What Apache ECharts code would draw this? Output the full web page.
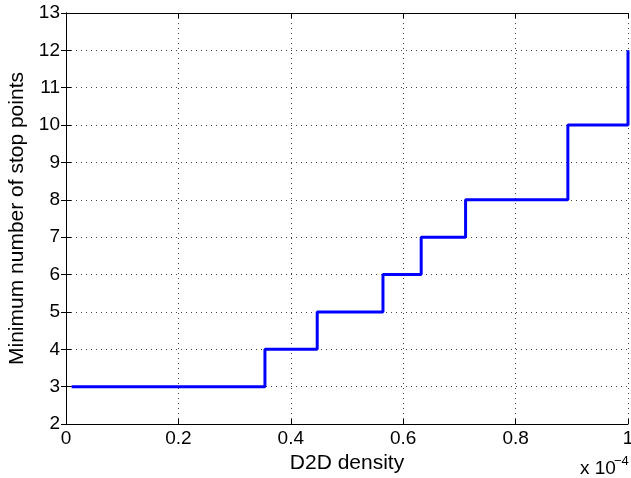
<!DOCTYPE html>
<html><head><meta charset="utf-8">
<script src="https://cdn.jsdelivr.net/npm/echarts@6/dist/echarts.min.js"></script>
<style>html,body{margin:0;padding:0;background:#fff}#c{width:631px;height:478px}</style>
</head><body><div id="c"></div>
<script>
const densityX = [0.01, 0.354, 0.447, 0.564, 0.632, 0.711, 0.893, 1.0];
const minStops = [3, 4, 5, 6, 7, 8, 10, 12];
const xTicks = [0, 0.2, 0.4, 0.6, 0.8, 1];
const yRange = [2, 13];

const font = 'Liberation Sans, Arial, Helvetica, sans-serif';
const chart = echarts.init(document.getElementById('c'));
const tickStyle = {show: true, inside: true, length: 5, lineStyle: {color: '#000', width: 1}};
const axisLine = {show: true, lineStyle: {color: '#000', width: 1}};
chart.setOption({
  animation: false,
  backgroundColor: '#fff',
  grid: {left: 66, right: 3, top: 13, bottom: 54, containLabel: false, outerBoundsMode: 'none'},
  xAxis: [{
    type: 'value', min: xTicks[0], max: xTicks[xTicks.length-1], interval: 0.2,
    name: 'D2D density', nameLocation: 'middle', nameGap: 26,
    nameTextStyle: {fontFamily: font, fontSize: 21, color: '#000'},
    axisLine, axisTick: tickStyle,
    axisLabel: {fontFamily: font, fontSize: 19, color: '#000', margin: 5},
    splitLine: {show: true, lineStyle: {color: '#444', type: [1, 4], width: 1}}
  }, {
    type: 'value', position: 'top', min: xTicks[0], max: xTicks[xTicks.length-1], interval: 0.2,
    axisLine, axisTick: tickStyle, axisLabel: {show: false}, splitLine: {show: false}
  }],
  yAxis: [{
    type: 'value', min: yRange[0], max: yRange[1], interval: 1,
    name: 'Minimum number of stop points', nameLocation: 'middle', nameGap: 35,
    nameTextStyle: {fontFamily: font, fontSize: 21, color: '#000'},
    axisLine, axisTick: tickStyle,
    axisLabel: {fontFamily: font, fontSize: 19, color: '#000', margin: 6},
    splitLine: {show: true, lineStyle: {color: '#444', type: [1, 4], width: 1}}
  }, {
    type: 'value', position: 'right', min: yRange[0], max: yRange[1], interval: 1,
    axisLine, axisTick: tickStyle, axisLabel: {show: false}, splitLine: {show: false}
  }],
  graphic: [
    {type: 'text', left: 580, top: 459,
     style: {text: 'x 10', fontFamily: font, fontSize: 19, fill: '#000'}},
    {type: 'text', left: 614, top: 455,
     style: {text: '−4', fontFamily: font, fontSize: 13, fill: '#000'}}
  ],
  series: [{
    type: 'line', step: 'end', showSymbol: false,
    data: densityX.map((x, i) => [x, minStops[i]]),
    lineStyle: {color: '#0000ff', width: 3},
    z: 5
  }]
});
</script></body></html>
